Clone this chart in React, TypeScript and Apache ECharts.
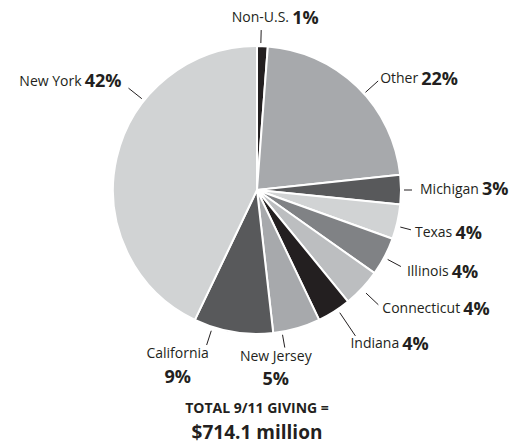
import React, { useEffect, useRef } from "react";
import * as echarts from "echarts";

const names = ["Non-U.S.", "Other", "Michigan", "Texas", "Illinois", "Connecticut", "Indiana", "New Jersey", "California", "New York"];
const values = [1.2, 22.1, 3.3, 3.9, 4.3, 4.3, 3.8, 5.3, 8.9, 42.9];
const pctLabels = ["1%", "22%", "3%", "4%", "4%", "4%", "4%", "5%", "9%", "42%"];
const colors = ["#231f20", "#a7a9ac", "#58595b", "#d1d3d4", "#808285", "#bcbec0", "#231f20", "#a7a9ac", "#58595b", "#d1d3d4"];
const twoLine = ["New Jersey", "California"];
const titleLine1 = "TOTAL 9/11 GIVING =";
const titleLine2 = "$714.1 million";

// label leader layout: angle (deg clockwise from top), inner/outer distance beyond radius,
// and label offset from the leader end with its alignment
const leaderLayout = [
  { ang: 1.5, r0: 3, r1: 16, dx: 14, dy: -2, align: "center", va: "bottom" },
  { ang: 48, r0: 2, r1: 19, dx: 2, dy: -3, align: "left", va: "middle" },
  { ang: 90, r0: 3, r1: 11, dx: 8, dy: -2, align: "left", va: "middle" },
  { ang: 104.5, r0: 4, r1: 15, dx: 4, dy: 2, align: "left", va: "middle" },
  { ang: 118, r0: 4, r1: 19, dx: 6, dy: 4, align: "left", va: "middle" },
  { ang: 133.4, r0: 6, r1: 23, dx: 4, dy: 3, align: "left", va: "middle" },
  { ang: 146, r0: 4, r1: 32, dx: -5, dy: 7, align: "left", va: "middle" },
  { ang: 170, r0: 3, r1: 16, dx: -9, dy: -4, align: "center", va: "top" },
  { ang: 198, r0: 4, r1: 19, dx: -29, dy: -4, align: "center", va: "top" },
  { ang: 308.4, r0: 3, r1: 20, dx: -7, dy: -8, align: "right", va: "middle" },
];

const CX = 257;
const CY = 190;
const R = 144;
const FONT = "'Open Sans', 'Noto Sans', sans-serif";

function polar(angDeg: number, dist: number): [number, number] {
  const a = (angDeg * Math.PI) / 180;
  return [CX + dist * Math.sin(a), CY - dist * Math.cos(a)];
}

export default function App() {
  const ref = useRef<HTMLDivElement>(null);
  useEffect(() => {
    document.body.style.margin = "0";
    const chart = echarts.init(ref.current!, null, { renderer: "svg" });
    const data = names.map((n, i) => ({
      name: n,
      value: values[i],
      itemStyle: { color: colors[i] },
      label: {
        formatter: twoLine.includes(n) ? `{n|${n}}\n{p|${pctLabels[i]}}` : `{n|${n}} {p|${pctLabels[i]}}`,
      },
    }));
    chart.setOption({
      animation: false,
      backgroundColor: "#ffffff",
      series: [
        {
          type: "pie",
          center: [CX, CY],
          radius: [0, R],
          startAngle: 90,
          clockwise: true,
          avoidLabelOverlap: false,
          itemStyle: { borderColor: "#ffffff", borderWidth: 2 },
          label: {
            show: true,
            position: "outside",
            color: "#231f20",
            fontFamily: FONT,
            rich: {
              n: { fontSize: 14, fontFamily: FONT, color: "#231f20", lineHeight: 23, align: "center" },
              p: { fontSize: 18, fontWeight: "bold", fontFamily: FONT, color: "#231f20", lineHeight: 23, align: "center" },
            },
          },
          labelLine: { show: true, length: 12, length2: 0, lineStyle: { color: "#231f20", width: 1 } },
          labelLayout: (params: any) => {
            const L = leaderLayout[params.dataIndex];
            const p0 = polar(L.ang, R + L.r0);
            const p1 = polar(L.ang, R + L.r1);
            return {
              x: p1[0] + L.dx,
              y: p1[1] + L.dy,
              align: L.align,
              verticalAlign: L.va,
              hideOverlap: false,
              moveOverlap: null,
              labelLinePoints: [p0, p1, p1],
            };
          },
          data,
        },
      ],
      graphic: [
        {
          type: "text",
          x: CX,
          y: 407,
          style: { text: titleLine1, font: `bold 14px ${FONT}`, fill: "#231f20", align: "center", verticalAlign: "middle", lineHeight: 16 },
        },
        {
          type: "text",
          x: CX,
          y: 432,
          style: { text: titleLine2, font: `bold 19px ${FONT}`, fill: "#231f20", align: "center", verticalAlign: "middle", lineHeight: 19 },
        },
      ],
    });
    return () => chart.dispose();
  }, []);
  return <div ref={ref} style={{ width: 521, height: 445 }} />;
}
